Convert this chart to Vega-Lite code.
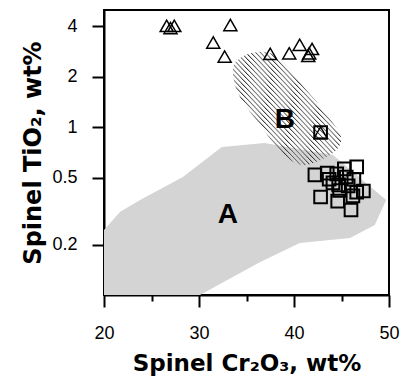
{
  "$schema": "https://vega.github.io/schema/vega-lite/v6.json",
  "width": 285,
  "height": 285,
  "autosize": "none",
  "padding": {"left": 104, "top": 10, "right": 12, "bottom": 82},
  "config": {
    "view": {"stroke": "black", "strokeWidth": 2},
    "font": "Liberation Sans",
    "axis": {
      "grid": false,
      "domainColor": "black",
      "domainWidth": 2,
      "tickColor": "black",
      "tickWidth": 2,
      "tickSize": 12,
      "labelColor": "black",
      "labelFont": "Liberation Sans",
      "labelFontSize": 18,
      "labelFlush": false,
      "titleColor": "black",
      "titleFont": "DejaVu Sans",
      "titleFontSize": 23,
      "titleFontWeight": "bold"
    }
  },
  "datasets": {
    "A": [
      {"i": 0, "x": 20, "y": 0.1},
      {"i": 1, "x": 20, "y": 0.244},
      {"i": 2, "x": 21.7, "y": 0.313},
      {"i": 3, "x": 23.8, "y": 0.368},
      {"i": 4, "x": 28.3, "y": 0.505},
      {"i": 5, "x": 32.4, "y": 0.763},
      {"i": 6, "x": 36.9, "y": 0.806},
      {"i": 7, "x": 44.1, "y": 0.684},
      {"i": 8, "x": 49.7, "y": 0.368},
      {"i": 9, "x": 48.5, "y": 0.261},
      {"i": 10, "x": 45.9, "y": 0.219},
      {"i": 11, "x": 40.6, "y": 0.204},
      {"i": 12, "x": 36.4, "y": 0.157},
      {"i": 13, "x": 30.1, "y": 0.1}
    ],
    "B": [
      {"i": 0, "x": 33.58, "y": 2.26},
      {"i": 1, "x": 34.32, "y": 2.59},
      {"i": 2, "x": 35.58, "y": 2.77},
      {"i": 3, "x": 36.95, "y": 2.81},
      {"i": 4, "x": 38.32, "y": 2.62},
      {"i": 5, "x": 39.79, "y": 2.13},
      {"i": 6, "x": 41.16, "y": 1.71},
      {"i": 7, "x": 42.74, "y": 1.34},
      {"i": 8, "x": 44.11, "y": 1.06},
      {"i": 9, "x": 44.95, "y": 0.875},
      {"i": 10, "x": 44.63, "y": 0.753},
      {"i": 11, "x": 43.26, "y": 0.656},
      {"i": 12, "x": 41.16, "y": 0.596},
      {"i": 13, "x": 39.58, "y": 0.638},
      {"i": 14, "x": 38.0, "y": 0.784},
      {"i": 15, "x": 36.42, "y": 1.03},
      {"i": 16, "x": 34.84, "y": 1.36},
      {"i": 17, "x": 33.89, "y": 1.71}
    ],
    "tri": [
      {"x": 26.6, "y": 4.02},
      {"x": 27.0, "y": 3.9},
      {"x": 27.4, "y": 4.02},
      {"x": 33.3, "y": 4.07},
      {"x": 31.5, "y": 3.2},
      {"x": 32.7, "y": 2.64},
      {"x": 37.5, "y": 2.74},
      {"x": 39.5, "y": 2.76},
      {"x": 40.6, "y": 3.1},
      {"x": 41.9, "y": 2.93},
      {"x": 41.6, "y": 2.76},
      {"x": 41.5, "y": 2.66},
      {"x": 42.8, "y": 0.93}
    ],
    "sq": [
      {"x": 42.2, "y": 0.52},
      {"x": 43.5, "y": 0.533},
      {"x": 43.7, "y": 0.49},
      {"x": 44.5, "y": 0.527},
      {"x": 45.3, "y": 0.565},
      {"x": 45.5, "y": 0.505},
      {"x": 46.6, "y": 0.58},
      {"x": 46.3, "y": 0.49},
      {"x": 44.7, "y": 0.453},
      {"x": 42.8, "y": 0.384},
      {"x": 44.6, "y": 0.363},
      {"x": 46.2, "y": 0.39},
      {"x": 47.3, "y": 0.417},
      {"x": 46.6, "y": 0.41},
      {"x": 46.0, "y": 0.321},
      {"x": 44.8, "y": 0.42},
      {"x": 44.1, "y": 0.466},
      {"x": 45.7, "y": 0.447},
      {"x": 42.8, "y": 0.93}
    ],
    "lab": [
      {"x": 33.05, "y": 0.3, "t": "A"},
      {"x": 39.05, "y": 1.105, "t": "B"}
    ]
  },
  "layer": [
    {
      "data": {"name": "A"},
      "mark": {"type": "line", "interpolate": "linear-closed", "fill": "#d4d4d4", "strokeOpacity": 0},
      "encoding": {
        "x": {
          "field": "x", "type": "quantitative",
          "scale": {"domain": [20, 50], "nice": false, "zero": false},
          "title": "Spinel Cr₂O₃, wt%",
          "axis": {
            "values": [20, 25, 30, 35, 40, 45, 50],
            "tickSize": {"condition": {"test": "datum.value % 10 !== 0", "value": 6}, "value": 12},
            "labelExpr": "datum.value % 10 === 0 ? datum.label : ''",
            "labelPadding": 17,
            "titlePadding": 10
          }
        },
        "y": {
          "field": "y", "type": "quantitative",
          "scale": {"type": "log", "domain": [0.1, 5], "nice": false},
          "title": "Spinel TiO₂, wt%",
          "axis": {
            "values": [0.2, 0.5, 1, 2, 4],
            "format": "~g",
            "labelPadding": 15,
            "titlePadding": 6,
            "titleFontSize": 24
          }
        },
        "order": {"field": "i", "type": "quantitative"}
      }
    },
    {
      "data": {"name": "B"},
      "mark": {
        "type": "line", "interpolate": "cardinal-closed", "strokeOpacity": 0,
        "fill": {
          "gradient": "linear", "x1": 0, "y1": 1, "x2": 1, "y2": 0,
          "stops": [
            {"offset": 0, "color": "#333"}, {"offset": 0.01, "color": "rgba(255,255,255,0)"}, {"offset": 0.0178, "color": "rgba(255,255,255,0)"},
            {"offset": 0.0222, "color": "#333"}, {"offset": 0.0322, "color": "rgba(255,255,255,0)"}, {"offset": 0.04, "color": "rgba(255,255,255,0)"},
            {"offset": 0.0444, "color": "#333"}, {"offset": 0.0544, "color": "rgba(255,255,255,0)"}, {"offset": 0.0622, "color": "rgba(255,255,255,0)"},
            {"offset": 0.0667, "color": "#333"}, {"offset": 0.0767, "color": "rgba(255,255,255,0)"}, {"offset": 0.0844, "color": "rgba(255,255,255,0)"},
            {"offset": 0.0889, "color": "#333"}, {"offset": 0.0989, "color": "rgba(255,255,255,0)"}, {"offset": 0.1067, "color": "rgba(255,255,255,0)"},
            {"offset": 0.1111, "color": "#333"}, {"offset": 0.1211, "color": "rgba(255,255,255,0)"}, {"offset": 0.1289, "color": "rgba(255,255,255,0)"},
            {"offset": 0.1333, "color": "#333"}, {"offset": 0.1433, "color": "rgba(255,255,255,0)"}, {"offset": 0.1511, "color": "rgba(255,255,255,0)"},
            {"offset": 0.1556, "color": "#333"}, {"offset": 0.1656, "color": "rgba(255,255,255,0)"}, {"offset": 0.1733, "color": "rgba(255,255,255,0)"},
            {"offset": 0.1778, "color": "#333"}, {"offset": 0.1878, "color": "rgba(255,255,255,0)"}, {"offset": 0.1956, "color": "rgba(255,255,255,0)"},
            {"offset": 0.2, "color": "#333"}, {"offset": 0.21, "color": "rgba(255,255,255,0)"}, {"offset": 0.2178, "color": "rgba(255,255,255,0)"},
            {"offset": 0.2222, "color": "#333"}, {"offset": 0.2322, "color": "rgba(255,255,255,0)"}, {"offset": 0.24, "color": "rgba(255,255,255,0)"},
            {"offset": 0.2444, "color": "#333"}, {"offset": 0.2544, "color": "rgba(255,255,255,0)"}, {"offset": 0.2622, "color": "rgba(255,255,255,0)"},
            {"offset": 0.2667, "color": "#333"}, {"offset": 0.2767, "color": "rgba(255,255,255,0)"}, {"offset": 0.2844, "color": "rgba(255,255,255,0)"},
            {"offset": 0.2889, "color": "#333"}, {"offset": 0.2989, "color": "rgba(255,255,255,0)"}, {"offset": 0.3067, "color": "rgba(255,255,255,0)"},
            {"offset": 0.3111, "color": "#333"}, {"offset": 0.3211, "color": "rgba(255,255,255,0)"}, {"offset": 0.3289, "color": "rgba(255,255,255,0)"},
            {"offset": 0.3333, "color": "#333"}, {"offset": 0.3433, "color": "rgba(255,255,255,0)"}, {"offset": 0.3511, "color": "rgba(255,255,255,0)"},
            {"offset": 0.3556, "color": "#333"}, {"offset": 0.3656, "color": "rgba(255,255,255,0)"}, {"offset": 0.3733, "color": "rgba(255,255,255,0)"},
            {"offset": 0.3778, "color": "#333"}, {"offset": 0.3878, "color": "rgba(255,255,255,0)"}, {"offset": 0.3956, "color": "rgba(255,255,255,0)"},
            {"offset": 0.4, "color": "#333"}, {"offset": 0.41, "color": "rgba(255,255,255,0)"}, {"offset": 0.4178, "color": "rgba(255,255,255,0)"},
            {"offset": 0.4222, "color": "#333"}, {"offset": 0.4322, "color": "rgba(255,255,255,0)"}, {"offset": 0.44, "color": "rgba(255,255,255,0)"},
            {"offset": 0.4444, "color": "#333"}, {"offset": 0.4544, "color": "rgba(255,255,255,0)"}, {"offset": 0.4622, "color": "rgba(255,255,255,0)"},
            {"offset": 0.4667, "color": "#333"}, {"offset": 0.4767, "color": "rgba(255,255,255,0)"}, {"offset": 0.4844, "color": "rgba(255,255,255,0)"},
            {"offset": 0.4889, "color": "#333"}, {"offset": 0.4989, "color": "rgba(255,255,255,0)"}, {"offset": 0.5067, "color": "rgba(255,255,255,0)"},
            {"offset": 0.5111, "color": "#333"}, {"offset": 0.5211, "color": "rgba(255,255,255,0)"}, {"offset": 0.5289, "color": "rgba(255,255,255,0)"},
            {"offset": 0.5333, "color": "#333"}, {"offset": 0.5433, "color": "rgba(255,255,255,0)"}, {"offset": 0.5511, "color": "rgba(255,255,255,0)"},
            {"offset": 0.5556, "color": "#333"}, {"offset": 0.5656, "color": "rgba(255,255,255,0)"}, {"offset": 0.5733, "color": "rgba(255,255,255,0)"},
            {"offset": 0.5778, "color": "#333"}, {"offset": 0.5878, "color": "rgba(255,255,255,0)"}, {"offset": 0.5956, "color": "rgba(255,255,255,0)"},
            {"offset": 0.6, "color": "#333"}, {"offset": 0.61, "color": "rgba(255,255,255,0)"}, {"offset": 0.6178, "color": "rgba(255,255,255,0)"},
            {"offset": 0.6222, "color": "#333"}, {"offset": 0.6322, "color": "rgba(255,255,255,0)"}, {"offset": 0.64, "color": "rgba(255,255,255,0)"},
            {"offset": 0.6444, "color": "#333"}, {"offset": 0.6544, "color": "rgba(255,255,255,0)"}, {"offset": 0.6622, "color": "rgba(255,255,255,0)"},
            {"offset": 0.6667, "color": "#333"}, {"offset": 0.6767, "color": "rgba(255,255,255,0)"}, {"offset": 0.6844, "color": "rgba(255,255,255,0)"},
            {"offset": 0.6889, "color": "#333"}, {"offset": 0.6989, "color": "rgba(255,255,255,0)"}, {"offset": 0.7067, "color": "rgba(255,255,255,0)"},
            {"offset": 0.7111, "color": "#333"}, {"offset": 0.7211, "color": "rgba(255,255,255,0)"}, {"offset": 0.7289, "color": "rgba(255,255,255,0)"},
            {"offset": 0.7333, "color": "#333"}, {"offset": 0.7433, "color": "rgba(255,255,255,0)"}, {"offset": 0.7511, "color": "rgba(255,255,255,0)"},
            {"offset": 0.7556, "color": "#333"}, {"offset": 0.7656, "color": "rgba(255,255,255,0)"}, {"offset": 0.7733, "color": "rgba(255,255,255,0)"},
            {"offset": 0.7778, "color": "#333"}, {"offset": 0.7878, "color": "rgba(255,255,255,0)"}, {"offset": 0.7956, "color": "rgba(255,255,255,0)"},
            {"offset": 0.8, "color": "#333"}, {"offset": 0.81, "color": "rgba(255,255,255,0)"}, {"offset": 0.8178, "color": "rgba(255,255,255,0)"},
            {"offset": 0.8222, "color": "#333"}, {"offset": 0.8322, "color": "rgba(255,255,255,0)"}, {"offset": 0.84, "color": "rgba(255,255,255,0)"},
            {"offset": 0.8444, "color": "#333"}, {"offset": 0.8544, "color": "rgba(255,255,255,0)"}, {"offset": 0.8622, "color": "rgba(255,255,255,0)"},
            {"offset": 0.8667, "color": "#333"}, {"offset": 0.8767, "color": "rgba(255,255,255,0)"}, {"offset": 0.8844, "color": "rgba(255,255,255,0)"},
            {"offset": 0.8889, "color": "#333"}, {"offset": 0.8989, "color": "rgba(255,255,255,0)"}, {"offset": 0.9067, "color": "rgba(255,255,255,0)"},
            {"offset": 0.9111, "color": "#333"}, {"offset": 0.9211, "color": "rgba(255,255,255,0)"}, {"offset": 0.9289, "color": "rgba(255,255,255,0)"},
            {"offset": 0.9333, "color": "#333"}, {"offset": 0.9433, "color": "rgba(255,255,255,0)"}, {"offset": 0.9511, "color": "rgba(255,255,255,0)"},
            {"offset": 0.9556, "color": "#333"}, {"offset": 0.9656, "color": "rgba(255,255,255,0)"}, {"offset": 0.9733, "color": "rgba(255,255,255,0)"},
            {"offset": 0.9778, "color": "#333"}, {"offset": 0.9878, "color": "rgba(255,255,255,0)"}, {"offset": 0.9956, "color": "rgba(255,255,255,0)"},
            {"offset": 1, "color": "#333"}
          ]
        }
      },
      "encoding": {
        "x": {"field": "x", "type": "quantitative"},
        "y": {"field": "y", "type": "quantitative"},
        "order": {"field": "i", "type": "quantitative"}
      }
    },
    {
      "data": {"name": "tri"},
      "mark": {"type": "point", "shape": "triangle-up", "size": 170, "filled": false, "stroke": "black", "strokeWidth": 1.5, "opacity": 1},
      "encoding": {
        "x": {"field": "x", "type": "quantitative"},
        "y": {"field": "y", "type": "quantitative"}
      }
    },
    {
      "data": {"name": "sq"},
      "mark": {"type": "point", "shape": "square", "size": 160, "filled": false, "stroke": "black", "strokeWidth": 2, "opacity": 1},
      "encoding": {
        "x": {"field": "x", "type": "quantitative"},
        "y": {"field": "y", "type": "quantitative"}
      }
    },
    {
      "data": {"name": "lab"},
      "mark": {"type": "text", "font": "Liberation Sans", "fontSize": 28, "fontWeight": "bold", "color": "black", "align": "center", "baseline": "middle"},
      "encoding": {
        "x": {"field": "x", "type": "quantitative"},
        "y": {"field": "y", "type": "quantitative"},
        "text": {"field": "t", "type": "nominal"}
      }
    }
  ]
}
